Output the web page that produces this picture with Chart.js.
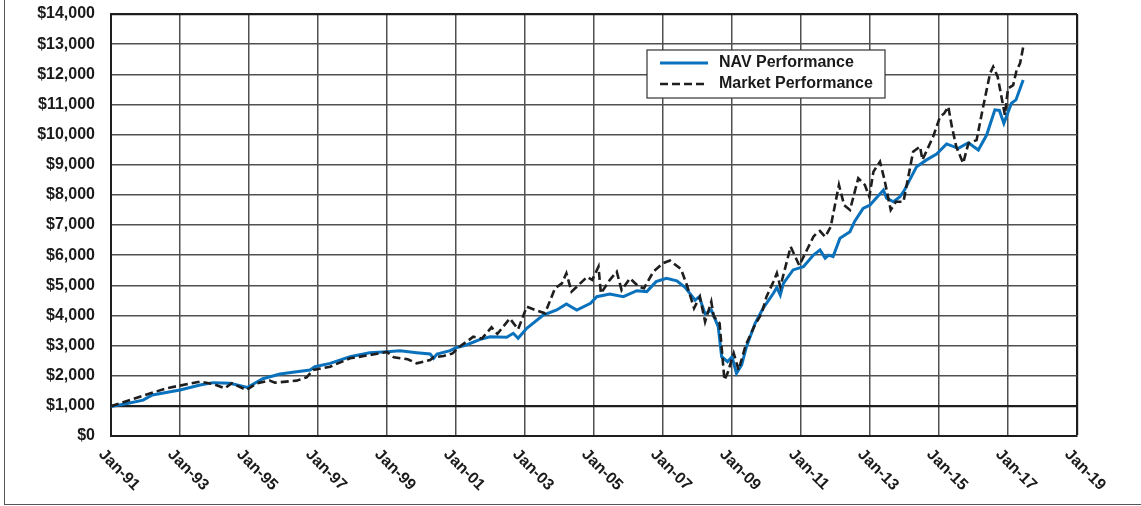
<!DOCTYPE html>
<html>
<head>
<meta charset="utf-8">
<script src="https://cdn.jsdelivr.net/npm/chart.js@4.4.0/dist/chart.umd.min.js"></script>
<style>
    html, body { margin: 0; padding: 0; background: #fff; }
    #frame { position: absolute; left: 4px; top: 0; width: 1137px; height: 504px; border-left: 1.5px solid #555; border-bottom: 1.5px solid #555; }
    canvas { position: absolute; left: 0; top: 0; }
</style>
</head>
<body>
<div id="frame"></div>
<canvas id="perf" width="1141" height="506"></canvas>
<script>
// NAV performance (date as decimal year, value in $)
const navDates = [1991.00, 1991.40, 1991.93, 1992.20, 1992.60, 1993.00, 1993.58, 1993.96, 1994.45, 1994.95,
    1995.40, 1995.90, 1996.38, 1996.77, 1996.91, 1997.35, 1997.93, 1998.50, 1999.00, 1999.38,
    1999.86, 2000.25, 2000.35, 2000.45, 2000.83, 2001.00, 2001.30, 2001.70, 2001.99, 2002.47,
    2002.66, 2002.80, 2003.05, 2003.53, 2003.92, 2004.20, 2004.50, 2004.90, 2005.08, 2005.46,
    2005.85, 2006.24, 2006.53, 2006.80, 2007.10, 2007.40, 2007.64, 2007.93, 2008.05, 2008.22,
    2008.40, 2008.60, 2008.70, 2008.87, 2009.00, 2009.13, 2009.28, 2009.42, 2009.67, 2009.90,
    2010.20, 2010.30, 2010.40, 2010.49, 2010.77, 2011.07, 2011.36, 2011.55, 2011.70, 2011.80,
    2011.93, 2012.13, 2012.42, 2012.55, 2012.80, 2013.00, 2013.39, 2013.48, 2013.68, 2013.87,
    2014.00, 2014.35, 2014.64, 2014.93, 2015.22, 2015.56, 2015.85, 2016.14, 2016.38, 2016.62,
    2016.75, 2016.88, 2017.10, 2017.23, 2017.44];
const navValues = [980, 1060, 1190, 1360, 1440, 1526, 1692, 1770, 1750, 1610,
    1900, 2057, 2133, 2190, 2300, 2410, 2630, 2764, 2798, 2830,
    2764, 2720, 2578, 2720, 2830, 2930, 3020, 3208, 3294, 3275,
    3407, 3240, 3573, 4014, 4180, 4380, 4180, 4400, 4620, 4710,
    4620, 4820, 4790, 5120, 5230, 5150, 4930, 4510, 4620, 4050,
    4180, 3626, 2630, 2465, 2630, 2080, 2355, 2963, 3740, 4237,
    4735, 4930, 4678, 5065, 5510, 5617, 6005, 6170, 5900, 6000,
    5950, 6560, 6780, 7110, 7550, 7660, 8160, 7890, 7770, 7940,
    8160, 8935, 9160, 9350, 9690, 9545, 9730, 9490, 9985, 10820,
    10800, 10375, 11040, 11150, 11810];

// Market performance
const mktDates = [1991.00, 1991.64, 1992.60, 1993.58, 1993.96, 1994.30, 1994.50, 1994.93, 1995.22, 1995.60,
    1995.75, 1996.38, 1996.67, 1996.86, 1997.35, 1997.93, 1998.50, 1999.00, 1999.20, 1999.60,
    1999.86, 2000.25, 2000.35, 2000.64, 2000.90, 2001.10, 2001.37, 2001.50, 2001.75, 2002.03,
    2002.20, 2002.56, 2002.80, 2003.05, 2003.30, 2003.58, 2003.87, 2004.07, 2004.20, 2004.35,
    2004.50, 2004.80, 2004.95, 2005.13, 2005.20, 2005.46, 2005.66, 2005.80, 2006.04, 2006.30,
    2006.45, 2006.72, 2007.00, 2007.20, 2007.52, 2007.70, 2007.90, 2008.07, 2008.22, 2008.40,
    2008.47, 2008.64, 2008.78, 2008.87, 2009.05, 2009.19, 2009.40, 2009.65, 2009.86, 2010.00,
    2010.20, 2010.30, 2010.40, 2010.70, 2010.95, 2011.36, 2011.45, 2011.55, 2011.70, 2011.86,
    2012.10, 2012.25, 2012.42, 2012.66, 2012.85, 2012.98, 2013.10, 2013.29, 2013.42, 2013.60,
    2013.75, 2013.97, 2014.25, 2014.45, 2014.52, 2014.83, 2015.03, 2015.15, 2015.27, 2015.37,
    2015.50, 2015.70, 2015.85, 2016.09, 2016.28, 2016.48, 2016.57, 2016.70, 2016.91, 2017.00,
    2017.15, 2017.25, 2017.35, 2017.44];
const mktValues = [990, 1228, 1582, 1802, 1725, 1582, 1750, 1526, 1748, 1836,
    1770, 1836, 1947, 2190, 2300, 2578, 2687, 2790, 2610, 2545,
    2410, 2520, 2610, 2654, 2740, 2963, 3180, 3294, 3230, 3606,
    3390, 3900, 3540, 4290, 4180, 4070, 4900, 5065, 5400, 4790,
    4950, 5280, 5180, 5617, 4730, 5180, 5450, 4840, 5230, 4950,
    4900, 5450, 5730, 5820, 5540, 4980, 4240, 4620, 3790, 4455,
    3970, 3740, 1858, 2080, 2744, 2190, 3020, 3650, 4070, 4620,
    5120, 5400, 4950, 6280, 5660, 6610, 6725, 6800, 6610, 6940,
    8330, 7660, 7500, 8550, 8330, 7940, 8770, 9100, 8500, 7500,
    7770, 7770, 9430, 9600, 9160, 9930, 10595, 10700, 10925, 10280,
    9600, 9050, 9700, 9820, 10925, 12030, 12250, 11920, 10650, 11530,
    11640, 12140, 12360, 12900];

const xTicks = [1991, 1993, 1995, 1997, 1999, 2001, 2003, 2005, 2007, 2009, 2011, 2013, 2015, 2017, 2019];
const xTickLabels = ['Jan-91', 'Jan-93', 'Jan-95', 'Jan-97', 'Jan-99', 'Jan-01', 'Jan-03', 'Jan-05',
    'Jan-07', 'Jan-09', 'Jan-11', 'Jan-13', 'Jan-15', 'Jan-17', 'Jan-19'];
const seriesNames = ['NAV Performance', 'Market Performance'];

const FONT = "'Liberation Sans', Arial, sans-serif";
const BLUE = '#0a72bd';
const DARK = '#1e1e1e';

function points(dates, values) {
    return dates.map((d, i) => ({ x: d, y: values[i] }));
}

// labels on x axis are turned clockwise, so they are drawn here
const rotatedLabels = {
    id: 'rotatedLabels',
    afterDraw(chart) {
        const ctx = chart.ctx;
        const xs = chart.scales.x;
        const top = chart.chartArea.bottom;
        ctx.save();
        ctx.fillStyle = '#1a1a1a';
        ctx.font = 'bold 16px ' + FONT;
        ctx.textAlign = 'left';
        ctx.textBaseline = 'middle';
        xTicks.forEach((t, i) => {
            const px = xs.getPixelForValue(t);
            ctx.save();
            ctx.translate(px - 10, top + 16);
            ctx.rotate(Math.PI / 4);
            ctx.fillText(xTickLabels[i], 0, 0);
            ctx.restore();
        });
        ctx.restore();
    }
};

// boxed legend inside the plot
const boxLegend = {
    id: 'boxLegend',
    afterDraw(chart) {
        const ctx = chart.ctx;
        const bx = 647, by = 50, bw = 238, bh = 48;
        ctx.save();
        ctx.fillStyle = '#fff';
        ctx.fillRect(bx, by, bw, bh);
        ctx.strokeStyle = '#333';
        ctx.lineWidth = 1.2;
        ctx.strokeRect(bx, by, bw, bh);
        ctx.font = 'bold 16px ' + FONT;
        ctx.textBaseline = 'middle';
        ctx.fillStyle = '#1a1a1a';
        chart.data.datasets.forEach((ds, i) => {
            const y = by + 13 + i * 21;
            ctx.beginPath();
            ctx.strokeStyle = ds.borderColor;
            ctx.lineWidth = ds.borderWidth;
            ctx.setLineDash(ds.borderDash || []);
            ctx.moveTo(bx + 13, y);
            ctx.lineTo(bx + 61, y);
            ctx.stroke();
            ctx.setLineDash([]);
            ctx.fillText(seriesNames[i], bx + 72, y);
        });
        ctx.restore();
    }
};

const ctx = document.getElementById('perf');
new Chart(ctx, {
    type: 'line',
    data: {
        datasets: [{
            label: seriesNames[0],
            data: points(navDates, navValues),
            borderColor: BLUE,
            borderWidth: 3,
            tension: 0,
            order: 1
        }, {
            label: seriesNames[1],
            data: points(mktDates, mktValues),
            borderColor: DARK,
            borderWidth: 2.6,
            borderDash: [8, 4],
            tension: 0,
            order: 0
        }]
    },
    options: {
        responsive: false,
        animation: false,
        layout: { padding: { top: 14, right: 64, left: 0, bottom: 0 } },
        elements: { point: { radius: 0 } },
        plugins: {
            legend: { display: false },
            tooltip: { enabled: false }
        },
        scales: {
            x: {
                type: 'linear',
                min: 1991,
                max: 2019,
                afterBuildTicks: s => { s.ticks = xTicks.map(v => ({ value: v })); },
                ticks: { display: false },
                grid: {
                    drawTicks: false,
                    color: c => (c.tick && c.tick.value === 2019) ? DARK : '#505050',
                    lineWidth: c => (c.tick && c.tick.value === 2019) ? 2.2 : 1.5
                },
                border: { color: DARK, width: 2 },
                afterFit: s => { s.height = 70; s.paddingLeft = 0; s.paddingRight = 0; }
            },
            y: {
                min: 0,
                max: 14000,
                ticks: {
                    stepSize: 1000,
                    padding: 16,
                    color: '#1a1a1a',
                    font: { family: FONT, size: 16, weight: 'bold' },
                    callback: v => '$' + v.toLocaleString('en-US')
                },
                grid: {
                    drawTicks: false,
                    color: c => (c.tick && (c.tick.value === 1000 || c.tick.value === 14000)) ? DARK : '#505050',
                    lineWidth: c => (c.tick && (c.tick.value === 1000 || c.tick.value === 14000)) ? 2.2 : 1.5
                },
                border: { color: DARK, width: 2 },
                afterFit: s => { s.width = 111; s.paddingTop = 0; s.paddingBottom = 0; }
            }
        }
    },
    plugins: [rotatedLabels, boxLegend]
});
</script>
</body>
</html>
